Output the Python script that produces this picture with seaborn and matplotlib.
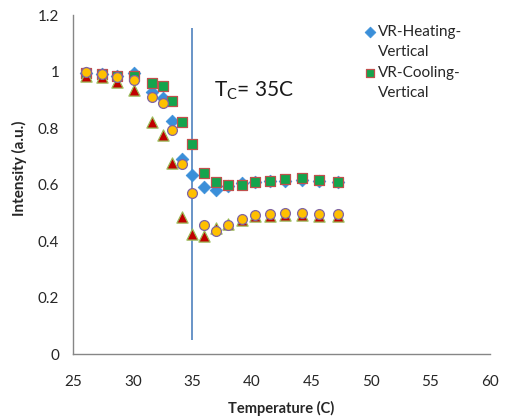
import matplotlib
matplotlib.use("Agg")
import matplotlib.pyplot as plt
from matplotlib.ticker import FuncFormatter
import seaborn as sns
import pandas as pd

# dane
temperature = [26.1, 27.4, 28.7, 30.1, 31.6, 32.5, 33.3, 34.1, 35.0, 36.0,
               37.0, 38.0, 39.2, 40.3, 41.5, 42.8, 44.2, 45.6, 47.2]
heating_vertical = [0.995, 0.99, 0.985, 0.995, 0.928, 0.907, 0.826, 0.692, 0.634, 0.59,
                    0.58, 0.595, 0.605, 0.61, 0.613, 0.613, 0.616, 0.612, 0.608]
cooling_vertical = [0.995, 0.99, 0.985, 0.985, 0.96, 0.949, 0.897, 0.82, 0.743, 0.64,
                    0.61, 0.598, 0.598, 0.61, 0.613, 0.619, 0.622, 0.616, 0.61]
series_triangle = [0.986, 0.979, 0.962, 0.935, 0.823, 0.775, 0.675, 0.486, 0.425, 0.418,
                   0.445, 0.46, 0.475, 0.488, 0.49, 0.493, 0.493, 0.49, 0.49]
series_circle = [0.999, 0.991, 0.982, 0.97, 0.911, 0.887, 0.793, 0.673, 0.569, 0.457,
                 0.436, 0.457, 0.477, 0.492, 0.494, 0.5, 0.498, 0.494, 0.494]

tc = 35
tc_line_range = (0.05, 1.155)

df = pd.DataFrame({
    "T": temperature,
    "heating": heating_vertical,
    "cooling": cooling_vertical,
    "tri": series_triangle,
    "circ": series_circle,
})

sns.set_style("white")
plt.rcParams["font.family"] = ["Lato", "DejaVu Sans"]

fig = plt.figure(figsize=(5.12, 4.18), dpi=100)
ax = fig.add_axes([0.143, 0.153, 0.814, 0.811])

ax.vlines(tc, tc_line_range[0], tc_line_range[1], color="#4F81BD", linewidth=1.2, zorder=1)

sns.scatterplot(data=df, x="T", y="heating", marker="D", s=42, color="#3A8FD9",
                edgecolor="#3A8FD9", linewidth=0.5, label="VR-Heating-\nVertical", ax=ax, zorder=3)
sns.scatterplot(data=df, x="T", y="cooling", marker="s", s=50, color="#14A44D",
                edgecolor="#C0504D", linewidth=0.9, label="VR-Cooling-\nVertical", ax=ax, zorder=4)
sns.scatterplot(data=df, x="T", y="tri", marker="^", s=65, color="#C00000",
                edgecolor="#9BBB59", linewidth=0.9, label="_nolegend_", ax=ax, zorder=5)
sns.scatterplot(data=df, x="T", y="circ", marker="o", s=50, color="#FFC000",
                edgecolor="#8064A2", linewidth=0.9, label="_nolegend_", ax=ax, zorder=6)

ax.text(36.8, 0.932, "T$_\\mathregular{C}$= 35C", fontsize=15, ha="left", va="center",
        color="#1a1a1a")

ax.set_xlim(25, 60)
ax.set_ylim(0, 1.2)
ax.set_xticks(range(25, 61, 5))
ax.set_yticks([0, 0.2, 0.4, 0.6, 0.8, 1.0, 1.2])
ax.yaxis.set_major_formatter(FuncFormatter(lambda v, p: f"{v:g}"))

for side in ["top", "right"]:
    ax.spines[side].set_visible(False)
for side in ["left", "bottom"]:
    ax.spines[side].set_color("#868686")
    ax.spines[side].set_linewidth(1)
ax.tick_params(axis="both", direction="out", length=5, width=1, color="#868686",
               labelsize=11, labelcolor="#262626", pad=5)
ax.tick_params(axis="x", pad=10)

ax.set_xlabel("Temperature (C)", fontsize=10.5, fontweight="bold")
ax.xaxis.set_label_coords(0.5, -0.138)
ax.set_ylabel("Intensity (a.u.)", fontsize=11, fontweight="bold")
ax.yaxis.set_label_coords(-0.11, 0.549)

leg = ax.legend(loc="upper left", bbox_to_anchor=(0.66, 1.01), frameon=False, fontsize=11,
                handletextpad=0.05, handlelength=1.0, labelspacing=0.45, markerscale=0.85)
for t in leg.get_texts():
    t.set_linespacing(1.55)
# znacznik legendy na wysokosci pierwszej linii tekstu
for h in leg.legend_handles:
    off = h.get_offsets()
    off[:, 1] += 8.5
    h.set_offsets(off)

fig.savefig("out.png", dpi=100)
